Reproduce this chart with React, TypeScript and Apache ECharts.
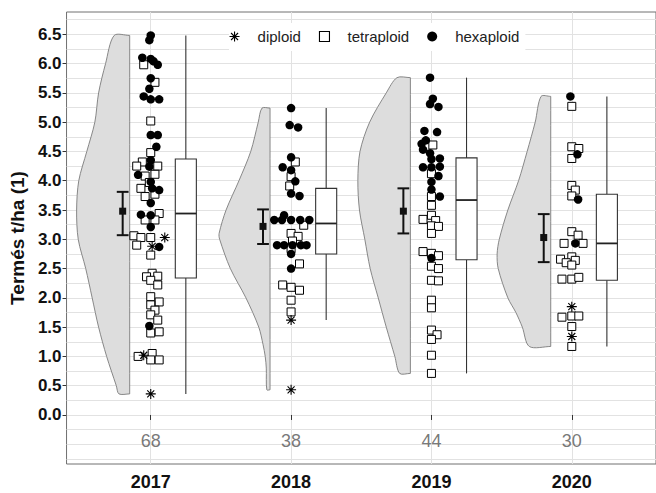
import { useEffect, useRef } from 'react';
import * as echarts from 'echarts';

// Harvest years (one raincloud per year)
const years = ['2017', '2018', '2019', '2020'];
const counts = [68, 38, 44, 30];

// Mean with its confidence interval
const means = [3.48, 3.22, 3.48, 3.03];
const ciLow = [3.07, 2.92, 3.1, 2.61];
const ciHigh = [3.81, 3.51, 3.87, 3.43];

// Box plot statistics
const boxMin = [0.36, 1.62, 0.71, 1.17];
const boxQ1 = [2.34, 2.75, 2.65, 2.3];
const boxMedian = [3.44, 3.27, 3.67, 2.93];
const boxQ3 = [4.37, 3.87, 4.39, 3.77];
const boxMax = [6.48, 5.24, 5.76, 5.44];

// Half-violin outline: [yield, relative density] from top to bottom
const density2017 = [[6.48, 0.29], [6.0, 0.45], [5.5, 0.58], [5.0, 0.65], [4.5, 0.8], [4.0, 0.95], [3.5, 0.99], [3.0, 0.96], [2.5, 0.82], [2.0, 0.7], [1.5, 0.58], [1.0, 0.43], [0.5, 0.25], [0.36, 0.2]];
const density2018 = [[5.24, 0.15], [5.0, 0.22], [4.5, 0.36], [4.0, 0.58], [3.5, 0.82], [3.1, 0.95], [3.0, 0.94], [2.5, 0.74], [2.0, 0.45], [1.5, 0.21], [1.2, 0.13], [1.0, 0.09], [0.8, 0.07], [0.43, 0.06]];
const density2019 = [[5.76, 0.25], [5.5, 0.45], [5.0, 0.76], [4.5, 0.94], [4.0, 0.98], [3.5, 0.95], [3.0, 0.85], [2.5, 0.75], [2.0, 0.6], [1.5, 0.45], [1.0, 0.29], [0.71, 0.2]];
const density2020 = [[5.44, 0.18], [5.0, 0.29], [4.5, 0.44], [4.0, 0.6], [3.5, 0.8], [3.0, 0.96], [2.75, 1.0], [2.5, 0.98], [2.0, 0.8], [1.75, 0.65], [1.5, 0.53], [1.17, 0.4]];
const densities = [density2017, density2018, density2019, density2020];

// Individual plots: [yield t/ha, horizontal jitter]
const diploid2017 = [[3.03, 0.1], [2.88, 0.01], [1.02, -0.05], [0.36, 0.0]];
const tetraploid2017 = [[5.98, -0.05], [5.68, 0.03], [5.02, 0.0], [4.48, 0.0], [4.32, -0.06], [4.25, -0.1], [4.25, 0.05], [4.08, -0.04], [4.11, 0.03], [3.97, -0.01], [3.87, -0.07], [3.77, 0.03], [3.73, -0.04], [3.44, 0.06], [3.33, -0.04], [3.33, 0.03], [3.06, -0.12], [3.03, -0.07], [3.03, 0.0], [2.9, -0.1], [2.73, 0.0], [2.42, 0.01], [2.36, -0.03], [2.37, 0.05], [2.3, 0.0], [2.22, 0.05], [2.02, 0.0], [1.93, 0.06], [1.88, 0.0], [1.79, 0.03], [1.71, 0.0], [1.62, 0.05], [1.4, 0.0], [1.42, 0.06], [1.0, -0.09], [1.05, 0.01], [0.94, 0.0], [0.94, 0.06]];
const hexaploid2017 = [[6.48, 0.0], [6.4, -0.01], [6.1, -0.06], [6.08, 0.0], [6.04, 0.02], [5.98, 0.05], [5.75, 0.0], [5.57, -0.01], [5.44, -0.05], [5.39, 0.0], [5.39, 0.06], [4.78, 0.0], [4.78, 0.05], [4.58, 0.04], [4.35, 0.0], [4.24, -0.01], [4.1, -0.09], [3.98, 0.0], [3.87, 0.01], [3.84, 0.06], [3.62, 0.0], [3.42, -0.07], [3.41, 0.0], [3.21, 0.0], [2.87, 0.06], [1.52, -0.01]];

const diploid2018 = [[1.62, 0.0], [0.43, 0.0]];
const tetraploid2018 = [[4.32, 0.03], [4.07, 0.0], [3.91, -0.01], [3.24, 0.09], [3.1, 0.0], [3.05, 0.05], [2.97, 0.01], [2.84, 0.0], [2.58, 0.06], [2.22, -0.06], [2.18, 0.0], [2.13, 0.06], [1.96, 0.0], [1.76, 0.0]];
const hexaploid2018 = [[5.24, 0.0], [4.95, -0.01], [4.91, 0.05], [4.4, 0.0], [4.23, -0.06], [4.18, 0.0], [3.99, 0.03], [3.78, 0.0], [3.74, 0.06], [3.41, -0.05], [3.33, -0.12], [3.33, -0.065], [3.33, 0.0], [3.33, 0.065], [3.33, 0.13], [2.9, -0.1], [2.9, -0.05], [2.9, 0.01], [2.9, 0.07], [2.9, 0.11], [2.75, 0.0], [2.5, 0.0]];

const diploid2019: number[][] = [];
const tetraploid2019 = [[4.61, 0.01], [4.12, 0.0], [3.73, 0.0], [3.58, 0.0], [3.41, 0.0], [3.34, -0.06], [3.32, 0.03], [3.23, 0.0], [3.22, 0.05], [3.1, 0.0], [2.79, -0.06], [2.76, 0.0], [2.72, 0.05], [2.54, 0.0], [2.5, 0.05], [2.3, 0.0], [2.29, 0.05], [1.96, 0.0], [1.83, 0.0], [1.45, 0.0], [1.37, 0.04], [1.29, 0.0], [1.02, 0.0], [0.71, 0.0]];
const hexaploid2019 = [[5.76, -0.01], [5.4, 0.01], [5.31, -0.01], [5.26, 0.05], [4.85, -0.05], [4.83, 0.04], [4.69, -0.04], [4.63, -0.07], [4.53, -0.06], [4.47, -0.01], [4.38, 0.06], [4.37, 0.0], [4.24, 0.06], [4.23, -0.06], [4.23, 0.0], [4.08, 0.05], [3.98, 0.0], [3.85, 0.0], [3.73, 0.06], [2.68, 0.0]];

const diploid2020 = [[1.85, 0.0], [1.34, 0.0]];
const tetraploid2020 = [[5.27, 0.0], [4.58, 0.0], [4.55, 0.05], [4.38, 0.0], [3.92, 0.0], [3.84, 0.025], [3.74, 0.0], [3.13, 0.0], [3.07, 0.045], [2.93, -0.055], [2.93, 0.08], [2.7, 0.0], [2.66, -0.08], [2.64, 0.025], [2.6, -0.04], [2.56, 0.0], [2.32, -0.07], [2.32, 0.0], [2.35, 0.05], [1.67, -0.07], [1.69, 0.0], [1.69, 0.05], [1.51, 0.0], [1.17, 0.0]];
const hexaploid2020 = [[5.44, -0.01], [4.45, 0.04], [3.68, 0.045], [2.93, 0.025]];

const diploid = [diploid2017, diploid2018, diploid2019, diploid2020];
const tetraploid = [tetraploid2017, tetraploid2018, tetraploid2019, tetraploid2020];
const hexaploid = [hexaploid2017, hexaploid2018, hexaploid2019, hexaploid2020];

// Axis ticks
const yLabelTicks = [0, 0.5, 1, 1.5, 2, 2.5, 3, 3.5, 4, 4.5, 5, 5.5, 6, 6.5];
const yGridTicks = [-0.75, -0.5, -0.25, 0, 0.25, 0.5, 0.75, 1, 1.25, 1.5, 1.75, 2, 2.25, 2.5, 2.75, 3, 3.25, 3.5, 3.75, 4, 4.25, 4.5, 4.75, 5, 5.25, 5.5, 5.75, 6, 6.25, 6.5, 6.75];
const xTicks = [1, 2, 3, 4];

const FONT = 'Liberation Sans, Arial, sans-serif';
const ASTERISK = 'path://M5,0L5,10M0,5L10,5M1.5,1.5L8.5,8.5M1.5,8.5L8.5,1.5';
const SQUARE = 'path://M0,0L10,0L10,10L0,10Z';

const VIOLIN_NUDGE = -0.15;
const VIOLIN_WIDTH = 0.382;
const CI_NUDGE = -0.2;
const BOX_NUDGE = 0.25;
const BOX_HALF = 0.075;

const toPoints = (groups: number[][][]) =>
  groups.flatMap((pts, i) => pts.map(([v, j]) => [i + 1 + j, v]));

export default function App() {
  const ref = useRef<HTMLDivElement>(null);

  useEffect(() => {
    const chart = echarts.init(ref.current!, null, { renderer: 'svg' });

    const option: any = {
      animation: false,
      backgroundColor: '#ffffff',
      textStyle: { fontFamily: FONT },
      grid: {
        left: 66,
        top: 12,
        width: 605,
        height: 452,
        show: true,
        borderColor: '#707070',
        borderWidth: 1,
        backgroundColor: '#ffffff',
      },
      legend: {
        left: 229,
        top: 23,
        padding: [6, 6, 7, 0],
        itemWidth: 36,
        itemHeight: 10,
        itemGap: 18,
        backgroundColor: '#ffffff',
        textStyle: { fontSize: 15, color: '#222222', fontFamily: FONT },
        data: [
          { name: 'diploid', icon: ASTERISK, itemStyle: { color: 'rgba(0,0,0,0)', borderColor: '#000', borderWidth: 1.1 } },
          { name: 'tetraploid', icon: SQUARE, itemStyle: { color: '#fff', borderColor: '#000', borderWidth: 1.1 } },
          { name: 'hexaploid', icon: 'circle', itemStyle: { color: '#000' } },
        ],
      },
      xAxis: {
        type: 'value',
        min: 0.4,
        max: 4.6,
        axisLine: { show: false },
        axisTick: { show: true, customValues: xTicks, length: 5, lineStyle: { color: '#333' } },
        axisLabel: {
          customValues: xTicks,
          formatter: (v: number) => years[Math.round(v) - 1] ?? '',
          fontSize: 18,
          fontWeight: 'bold',
          color: '#111',
          margin: 9,
          fontFamily: FONT,
        },
        splitLine: { show: true, lineStyle: { color: '#e2e2e2', width: 1 } },
      },
      yAxis: [
        {
          type: 'value',
          min: -0.837,
          max: 6.881,
          name: 'Termés t/ha (1)',
          nameLocation: 'middle',
          nameGap: 35,
          nameTextStyle: { fontSize: 19, fontWeight: 'bold', color: '#111', fontFamily: FONT },
          axisLine: { show: false },
          axisTick: { show: true, customValues: yLabelTicks, length: 4, lineStyle: { color: '#333' } },
          axisLabel: {
            customValues: yLabelTicks,
            formatter: (v: number) => v.toFixed(1),
            fontSize: 17,
            fontWeight: 'bold',
            color: '#111',
            margin: 5,
            fontFamily: FONT,
          },
          splitLine: { show: false },
        },
        {
          type: 'value',
          min: -0.837,
          max: 6.881,
          position: 'left',
          axisLine: { show: false },
          axisTick: { show: false, customValues: yGridTicks },
          axisLabel: { show: false },
          splitLine: { show: true, lineStyle: { color: '#e2e2e2', width: 1 } },
        },
      ],
      series: [
        {
          name: 'violin',
          type: 'custom',
          clip: true,
          data: years.map((_, i) => [i + 1, densities[i][0][0]]),
          renderItem: (params: any, api: any) => {
            const i = params.dataIndex;
            const dens = densities[i];
            const xr = i + 1 + VIOLIN_NUDGE;
            const top = api.coord([xr, dens[0][0]]);
            const bot = api.coord([xr, dens[dens.length - 1][0]]);
            const side = dens.map(([v, w]) => api.coord([xr - w * VIOLIN_WIDTH, v]));
            // corners are doubled so the smoothing keeps the flat side straight
            return {
              type: 'polygon',
              shape: { points: [top, top, ...side, bot, bot], smooth: 0.3 },
              style: { fill: '#dddddd', stroke: '#7c7c7c', lineWidth: 0.9 },
            };
          },
          z: 1,
        },
        {
          name: 'box',
          type: 'custom',
          data: years.map((_, i) => [i + 1, boxMin[i], boxQ1[i], boxMedian[i], boxQ3[i], boxMax[i]]),
          renderItem: (params: any, api: any) => {
            const xc = api.value(0) + BOX_NUDGE;
            const pMin = api.coord([xc, api.value(1)]);
            const pMax = api.coord([xc, api.value(5)]);
            const q1L = api.coord([xc - BOX_HALF, api.value(2)]);
            const q3R = api.coord([xc + BOX_HALF, api.value(4)]);
            const mL = api.coord([xc - BOX_HALF, api.value(3)]);
            const mR = api.coord([xc + BOX_HALF, api.value(3)]);
            const line = { stroke: '#333', lineWidth: 1.1 };
            return {
              type: 'group',
              children: [
                { type: 'line', shape: { x1: pMax[0], y1: pMax[1], x2: pMax[0], y2: q3R[1] }, style: line },
                { type: 'line', shape: { x1: pMin[0], y1: q1L[1], x2: pMin[0], y2: pMin[1] }, style: line },
                {
                  type: 'rect',
                  shape: { x: q1L[0], y: q3R[1], width: q3R[0] - q1L[0], height: q1L[1] - q3R[1] },
                  style: { fill: '#fff', stroke: '#333', lineWidth: 1.1 },
                },
                { type: 'line', shape: { x1: mL[0], y1: mL[1], x2: mR[0], y2: mR[1] }, style: { stroke: '#222', lineWidth: 1.8 } },
              ],
            };
          },
          z: 2,
        },
        {
          name: 'ci',
          type: 'custom',
          data: years.map((_, i) => [i + 1, ciLow[i], ciHigh[i]]),
          renderItem: (params: any, api: any) => {
            const xc = api.value(0) + CI_NUDGE;
            const lo = api.coord([xc, api.value(1)]);
            const hi = api.coord([xc, api.value(2)]);
            const capL = api.coord([xc - 0.042, api.value(1)])[0];
            const capR = api.coord([xc + 0.042, api.value(1)])[0];
            const s = { stroke: '#111', lineWidth: 2 };
            return {
              type: 'group',
              children: [
                { type: 'line', shape: { x1: lo[0], y1: lo[1], x2: hi[0], y2: hi[1] }, style: s },
                { type: 'line', shape: { x1: capL, y1: lo[1], x2: capR, y2: lo[1] }, style: s },
                { type: 'line', shape: { x1: capL, y1: hi[1], x2: capR, y2: hi[1] }, style: s },
              ],
            };
          },
          z: 3,
        },
        {
          name: 'mean',
          type: 'scatter',
          symbol: 'rect',
          symbolSize: 7,
          itemStyle: { color: '#111', opacity: 1 },
          data: years.map((_, i) => [i + 1 + CI_NUDGE, means[i]]),
          z: 4,
        },
        {
          name: 'tetraploid',
          type: 'scatter',
          symbol: 'rect',
          symbolSize: 8,
          itemStyle: { color: '#fff', borderColor: '#000', borderWidth: 1, opacity: 1 },
          data: toPoints(tetraploid),
          z: 5,
        },
        {
          name: 'hexaploid',
          type: 'scatter',
          symbol: 'circle',
          symbolSize: 8.5,
          itemStyle: { color: '#000', opacity: 1 },
          data: toPoints(hexaploid),
          z: 6,
        },
        {
          name: 'diploid',
          type: 'scatter',
          symbol: ASTERISK,
          symbolSize: 10,
          itemStyle: { color: 'rgba(0,0,0,0)', borderColor: '#000', borderWidth: 1.1, opacity: 1 },
          data: toPoints(diploid),
          z: 7,
        },
        {
          name: 'n',
          type: 'scatter',
          symbolSize: 0,
          silent: true,
          data: years.map((_, i) => [i + 1, -0.45]),
          label: {
            show: true,
            position: 'inside',
            formatter: (p: any) => String(counts[p.dataIndex]),
            fontSize: 18,
            color: '#555',
            fontFamily: FONT,
          },
          z: 8,
        },
      ],
    };

    chart.setOption(option);
    return () => chart.dispose();
  }, []);

  return (
    <div
      ref={ref}
      style={{ position: 'fixed', left: 0, top: 0, width: 656, height: 493, background: '#fff' }}
    />
  );
}
